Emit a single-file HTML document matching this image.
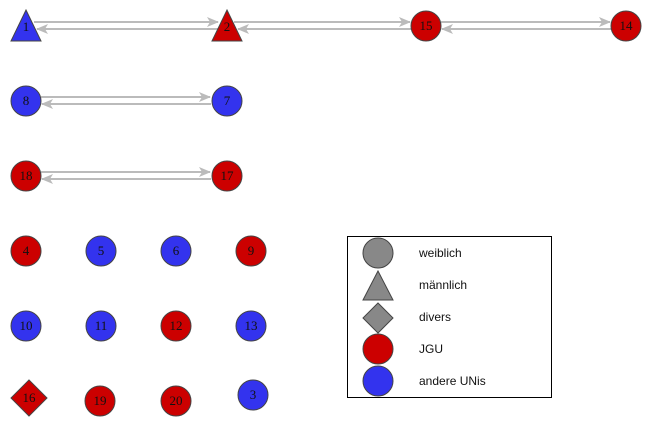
<!DOCTYPE html>
<html><head><meta charset="utf-8"><style>
body{margin:0;background:#fff;}
svg{display:block;}
text{font-family:"Liberation Sans",sans-serif;font-size:12px;fill:#111;}
.n text{font-family:"Liberation Serif",serif;font-size:13px;}
</style></head><body>
<svg width="652" height="426" viewBox="0 0 652 426">
<defs>
<marker id="a" markerWidth="12" markerHeight="10" refX="11" refY="5" orient="auto" markerUnits="userSpaceOnUse">
<path d="M0,0 L12,5 L0,10 L3,5 Z" fill="#bbb"/>
</marker>
</defs>
<g stroke="#bbb" stroke-width="2" fill="none">
<line x1="34" y1="22" x2="218" y2="22" marker-end="url(#a)"/>
<line x1="220" y1="29" x2="37" y2="29" marker-end="url(#a)"/>
<line x1="234" y1="22" x2="410" y2="22" marker-end="url(#a)"/>
<line x1="411" y1="29" x2="238" y2="29" marker-end="url(#a)"/>
<line x1="441" y1="22" x2="610" y2="22" marker-end="url(#a)"/>
<line x1="611" y1="29" x2="442" y2="29" marker-end="url(#a)"/>
<line x1="41" y1="97" x2="210" y2="97" marker-end="url(#a)"/>
<line x1="211" y1="104" x2="42" y2="104" marker-end="url(#a)"/>
<line x1="41" y1="172" x2="210" y2="172" marker-end="url(#a)"/>
<line x1="211" y1="179" x2="42" y2="179" marker-end="url(#a)"/>
</g>
<g stroke="#444" stroke-width="1">
<polygon points="26,10 41,41 11,41" fill="#3333ee"/>
<polygon points="227,10 242,41 212,41" fill="#cc0000"/>
<circle cx="426" cy="26" r="15" fill="#cc0000"/>
<circle cx="626" cy="26" r="15" fill="#cc0000"/>
<circle cx="26" cy="101" r="15" fill="#3333ee"/>
<circle cx="227" cy="101" r="15" fill="#3333ee"/>
<circle cx="26" cy="176" r="15" fill="#cc0000"/>
<circle cx="227" cy="176" r="15" fill="#cc0000"/>
<circle cx="26" cy="251" r="15" fill="#cc0000"/>
<circle cx="101" cy="251" r="15" fill="#3333ee"/>
<circle cx="176" cy="251" r="15" fill="#3333ee"/>
<circle cx="251" cy="251" r="15" fill="#cc0000"/>
<circle cx="26" cy="326" r="15" fill="#3333ee"/>
<circle cx="101" cy="326" r="15" fill="#3333ee"/>
<circle cx="176" cy="326" r="15" fill="#cc0000"/>
<circle cx="251" cy="326" r="15" fill="#3333ee"/>
<polygon points="29,380 47,398 29,416 11,398" fill="#cc0000"/>
<circle cx="100" cy="401" r="15" fill="#cc0000"/>
<circle cx="176" cy="401" r="15" fill="#cc0000"/>
<circle cx="253" cy="395" r="15" fill="#3333ee"/>
</g>
<g class="n" text-anchor="middle">
<text x="26" y="31">1</text><text x="227" y="31">2</text>
<text x="426" y="30">15</text><text x="626" y="30">14</text>
<text x="26" y="105">8</text><text x="227" y="105">7</text>
<text x="26" y="180">18</text><text x="227" y="180">17</text>
<text x="26" y="255">4</text><text x="101" y="255">5</text><text x="176" y="255">6</text><text x="251" y="255">9</text>
<text x="26" y="330">10</text><text x="101" y="330">11</text><text x="176" y="330">12</text><text x="251" y="330">13</text>
<text x="29" y="402">16</text><text x="100" y="405">19</text><text x="176" y="405">20</text><text x="253" y="399">3</text>
</g>
<rect x="347.5" y="236.5" width="204" height="161" fill="none" stroke="#000" stroke-width="1"/>
<g stroke="#444" stroke-width="1" fill="#888">
<circle cx="378" cy="253" r="15"/>
<polygon points="378,271 393,300 363,300"/>
<polygon points="378,303 393,318 378,333 363,318"/>
<circle cx="378" cy="349" r="15" fill="#cc0000"/>
<circle cx="378" cy="381" r="15" fill="#3333ee"/>
</g>
<g>
<text x="419" y="257">weiblich</text>
<text x="419" y="289">männlich</text>
<text x="419" y="321">divers</text>
<text x="419" y="353">JGU</text>
<text x="419" y="385">andere UNis</text>
</g>
</svg>
</body></html>
